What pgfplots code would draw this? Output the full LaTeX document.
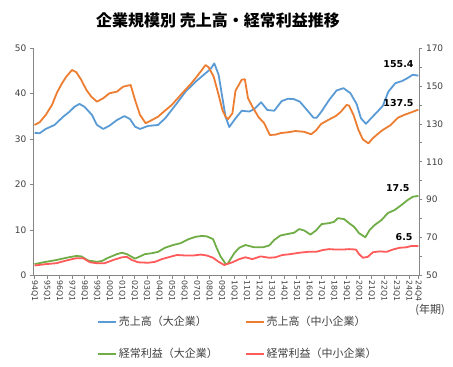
\documentclass[border=0pt]{standalone}
\usepackage{fontspec}
\setmainfont{DejaVu Sans}
\newfontfamily\jp{Noto Sans CJK JP}
\usepackage{pgfplots}
\pgfplotsset{compat=1.18}
\definecolor{cblue}{HTML}{5B9BD5}
\definecolor{corange}{HTML}{ED7D31}
\definecolor{cgreen}{HTML}{70AD47}
\definecolor{cred}{HTML}{FF5B5B}
\definecolor{axgray}{HTML}{868686}
\definecolor{txt}{HTML}{404040}
\begin{document}
\begin{tikzpicture}
\useasboundingbox (0,0) rectangle (453pt,367pt);
\node[font=\jp\bfseries\fontsize{16}{19}\selectfont] at (218pt,347pt) {企業規模別 売上高・経常利益推移};
\node[font=\jp\fontsize{11}{13}\selectfont, text=txt] at (430pt,57pt) {(年期)};
\pgfplotsset{common/.style={
  scale only axis, width=385.7pt, height=227.5pt,
  at={(33.3pt,91.5pt)}, anchor=south west,
  xmin=1993.9, xmax=2024.8,
  /pgf/number format/assume math mode=true,
  tick align=outside, major tick length=3.5pt, minor tick length=3.5pt,
  every tick/.style={draw=axgray, line width=0.6pt},
  axis line style={draw=axgray, line width=0.8pt, -},
  ticklabel style={font=\fontsize{9}{11}\selectfont, text=txt},
  every axis plot/.append style={line width=1.8pt, line join=round, mark=none},
}}
\begin{axis}[common,
  ymin=0, ymax=50, ytick={0,10,20,30,40,50},
  axis y line*=left, axis x line*=bottom,
  xtick={1994,1995,1996,1997,1998,1999,2000,2001,2002,2003,2004,2005,2006,2007,2008,2009,2010,2011,2012,2013,2014,2015,2016,2017,2018,2019,2020,2021,2022,2023,2024,2024.75},
  xticklabels={94Q1,95Q1,96Q1,97Q1,98Q1,99Q1,00Q1,01Q1,02Q1,03Q1,04Q1,05Q1,06Q1,07Q1,08Q1,09Q1,10Q1,11Q1,12Q1,13Q1,14Q1,15Q1,16Q1,17Q1,18Q1,19Q1,20Q1,21Q1,22Q1,23Q1,24Q1,24Q4},
  xticklabel style={font=\fontsize{7.8}{9}\selectfont, rotate=-90, anchor=west, inner sep=1pt},
]
\addplot[cgreen] coordinates {
(1994.0,2.5) (1994.9,3.0) (1995.75,3.4) (1996.55,3.9) (1997.35,4.3) (1997.75,4.2) (1998.3,3.3) (1999.0,3.0) (1999.4,3.2) (1999.9,3.9) (2000.6,4.7) (2001.0,5.0) (2001.4,4.7) (2002.05,3.7) (2002.45,4.2) (2002.85,4.7) (2003.4,4.9) (2003.9,5.2) (2004.45,6.1) (2005.1,6.7) (2005.7,7.1) (2006.35,8.0) (2006.9,8.5) (2007.4,8.7) (2007.8,8.6) (2008.3,8.0) (2008.6,6.0) (2008.9,4.2) (2009.3,2.6) (2009.45,2.5) (2010.0,4.9) (2010.4,6.1) (2010.9,6.7) (2011.6,6.2) (2012.3,6.2) (2012.8,6.6) (2013.2,7.8) (2013.7,8.8) (2014.25,9.1) (2014.8,9.4) (2015.2,10.2) (2015.6,9.9) (2016.1,9.0) (2016.55,9.9) (2017.0,11.3) (2017.6,11.5) (2018.0,11.8) (2018.3,12.6) (2018.8,12.4) (2019.2,11.5) (2019.6,10.7) (2020.0,9.3) (2020.5,8.4) (2020.85,10.0) (2021.25,11.1) (2021.8,12.2) (2022.3,13.7) (2022.85,14.4) (2023.4,15.5) (2023.9,16.6) (2024.3,17.3) (2024.75,17.5)
} node[pos=1, anchor=south east, inner sep=0pt, xshift=-8pt, yshift=3pt, font=\bfseries\fontsize{9.5}{11}\selectfont, text=black] {17.5};
\addplot[cred] coordinates {
(1994.0,2.2) (1994.9,2.5) (1995.75,2.7) (1996.55,3.3) (1997.35,3.8) (1997.9,3.8) (1998.45,2.9) (1999.0,2.7) (1999.6,2.7) (2000.3,3.4) (2001.0,4.0) (2001.4,4.1) (2001.8,3.4) (2002.3,2.9) (2003.1,2.8) (2003.65,3.0) (2004.2,3.6) (2004.85,4.1) (2005.4,4.5) (2006.1,4.4) (2006.75,4.4) (2007.3,4.6) (2007.8,4.4) (2008.3,3.9) (2008.75,3.0) (2009.2,2.3) (2009.85,2.9) (2010.4,3.6) (2010.9,4.0) (2011.45,3.6) (2012.1,4.2) (2012.8,3.9) (2013.3,4.0) (2013.85,4.5) (2014.5,4.7) (2015.2,5.0) (2015.9,5.2) (2016.55,5.2) (2017.1,5.6) (2017.6,5.8) (2018.15,5.7) (2018.7,5.7) (2019.2,5.8) (2019.75,5.7) (2020.0,4.7) (2020.3,3.9) (2020.7,4.1) (2021.1,5.1) (2021.65,5.3) (2022.2,5.2) (2022.7,5.7) (2023.25,6.1) (2023.8,6.2) (2024.2,6.5) (2024.75,6.5)
} node[pos=1, anchor=south east, inner sep=0pt, xshift=-5pt, yshift=4pt, font=\bfseries\fontsize{9.5}{11}\selectfont, text=black] {6.5};
\end{axis}
\begin{axis}[common,
  ymin=50, ymax=170, ytick={50,70,90,110,130,150,170}, minor ytick={60,80,100,120,140,160},
  axis y line*=right, axis x line=none,
  legend columns=2,
  legend style={at={(axis description cs:0.165,-0.17)}, anchor=north west, draw=none, fill=none,
    inner sep=0pt, font=\jp\fontsize{11}{13}\selectfont, text=txt,
    /tikz/every even column/.append style={column sep=25pt}, row sep=17pt},
  legend cell align=left,
  legend image code/.code={\draw[#1, line width=1.8pt] (0pt,0pt) -- (18pt,0pt);},
]
\addplot[cblue] coordinates {
(1994.0,125.3) (1994.4,125.0) (1994.9,127.3) (1995.6,129.4) (1996.3,133.8) (1996.8,136.4) (1997.2,139.0) (1997.6,140.5) (1998.0,139.0) (1998.6,134.7) (1999.0,129.4) (1999.5,127.3) (2000.0,129.0) (2000.6,132.0) (2001.2,134.1) (2001.65,132.5) (2002.05,128.5) (2002.45,127.3) (2003.1,128.9) (2003.9,129.4) (2004.5,133.2) (2005.3,140.0) (2006.1,147.0) (2006.9,152.2) (2007.7,156.7) (2008.1,158.9) (2008.4,161.9) (2008.75,155.8) (2009.1,141.7) (2009.3,133.8) (2009.6,128.3) (2010.1,132.9) (2010.6,136.9) (2011.2,136.5) (2011.6,137.8) (2012.15,141.4) (2012.65,137.3) (2013.2,136.9) (2013.8,142.0) (2014.3,143.2) (2014.75,143.1) (2015.25,141.7) (2015.8,137.5) (2016.35,133.2) (2016.6,133.2) (2017.0,136.6) (2017.6,142.6) (2018.2,147.6) (2018.75,148.8) (2019.3,146.2) (2019.8,140.5) (2020.15,132.9) (2020.55,130.0) (2021.0,133.2) (2021.5,136.6) (2021.9,139.5) (2022.35,147.0) (2022.9,151.4) (2023.45,152.6) (2023.9,154.2) (2024.3,155.9) (2024.75,155.4)
} node[pos=1, anchor=south east, inner sep=0pt, xshift=-4pt, yshift=7pt, font=\bfseries\fontsize{9.5}{11}\selectfont, text=black] {155.4};
\addlegendentry{売上高（大企業）}
\addplot[corange] coordinates {
(1994.0,129.4) (1994.4,130.8) (1994.9,134.7) (1995.4,140.0) (1995.8,146.5) (1996.2,151.4) (1996.55,154.9) (1997.0,158.4) (1997.35,157.2) (1997.75,153.1) (1998.15,147.9) (1998.55,144.3) (1999.0,141.7) (1999.5,143.5) (2000.0,146.1) (2000.6,147.0) (2001.1,149.6) (2001.7,150.5) (2002.05,142.6) (2002.45,134.7) (2002.9,130.3) (2003.4,132.0) (2003.9,133.8) (2004.35,136.4) (2005.0,140.0) (2005.7,145.2) (2006.5,150.9) (2007.0,154.9) (2007.7,161.0) (2007.95,159.8) (2008.35,154.9) (2008.75,145.2) (2009.05,137.3) (2009.3,133.8) (2009.5,132.5) (2009.85,135.5) (2010.1,147.5) (2010.6,153.3) (2010.85,153.5) (2011.1,143.5) (2011.5,138.5) (2011.95,133.5) (2012.4,130.3) (2012.85,124.1) (2013.3,124.3) (2013.7,125.1) (2014.25,125.5) (2014.9,126.2) (2015.6,125.8) (2016.15,124.5) (2016.55,126.5) (2016.95,129.9) (2017.6,132.3) (2018.15,134.2) (2018.55,136.4) (2019.0,140.0) (2019.2,139.6) (2019.55,134.7) (2019.95,126.8) (2020.3,121.8) (2020.75,119.7) (2021.1,122.4) (2021.65,125.5) (2021.95,127.0) (2022.5,129.2) (2023.1,133.2) (2023.65,134.8) (2024.2,136.1) (2024.75,137.5)
} node[pos=1, anchor=south east, inner sep=0pt, xshift=-4pt, yshift=2.5pt, font=\bfseries\fontsize{9.5}{11}\selectfont, text=black] {137.5};
\addlegendentry{売上高（中小企業）}
\addlegendimage{cgreen, line width=1.8pt}
\addlegendentry{経常利益（大企業）}
\addlegendimage{cred, line width=1.8pt}
\addlegendentry{経常利益（中小企業）}
\end{axis}
\end{tikzpicture}
\end{document}
